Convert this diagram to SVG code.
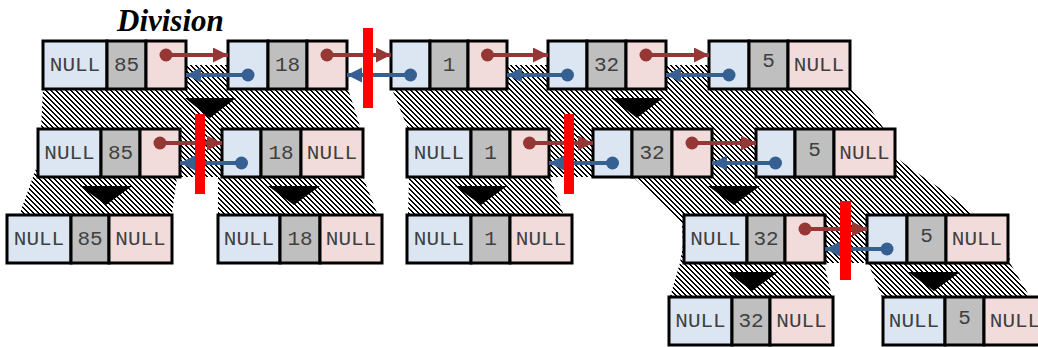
<svg xmlns="http://www.w3.org/2000/svg" width="1038" height="347" viewBox="0 0 1038 347">
<defs>
<style>
.b{fill:#dce6f2;stroke:#000;stroke-width:3}
.g{fill:#bfbfbf;stroke:#000;stroke-width:3}
.p{fill:#f2dcdb;stroke:#000;stroke-width:3}
.t{font-family:"Liberation Mono","Courier New",monospace;font-size:21px;fill:#404040;text-anchor:middle}
.ttl{font-family:"Liberation Serif","Times New Roman",serif;font-size:31px;font-weight:bold;font-style:italic;fill:#000}
.ar{stroke:#953735;stroke-width:4;fill:none;marker-start:url(#dr);marker-end:url(#hr)}
.ab{stroke:#376092;stroke-width:4;fill:none;marker-start:url(#db);marker-end:url(#hb)}
.bar{fill:#ff0000}
.tri{fill:#000}
.hatch{fill:url(#hp)}
</style>
<pattern id="hp" patternUnits="userSpaceOnUse" x="0" y="0" width="5" height="5">
<rect x="0" y="0" width="5" height="5" fill="#fff"/>
<rect x="0" y="0" width="2" height="1" fill="#000"/>
<rect x="1" y="1" width="2" height="1" fill="#000"/>
<rect x="2" y="2" width="2" height="1" fill="#000"/>
<rect x="3" y="3" width="2" height="1" fill="#000"/>
<rect x="4" y="4" width="1" height="1" fill="#000"/>
<rect x="0" y="4" width="1" height="1" fill="#000"/>
</pattern>
<marker id="hr" markerUnits="userSpaceOnUse" markerWidth="16" markerHeight="16" refX="15" refY="7.5" orient="auto"><path d="M0,0 L15,7.5 L0,15 z" fill="#953735"/></marker>
<marker id="hb" markerUnits="userSpaceOnUse" markerWidth="16" markerHeight="16" refX="15" refY="7.5" orient="auto"><path d="M0,0 L15,7.5 L0,15 z" fill="#376092"/></marker>
<marker id="dr" markerUnits="userSpaceOnUse" markerWidth="14" markerHeight="14" refX="7" refY="7"><circle cx="7" cy="7" r="6.5" fill="#953735"/></marker>
<marker id="db" markerUnits="userSpaceOnUse" markerWidth="14" markerHeight="14" refX="7" refY="7"><circle cx="7" cy="7" r="6.5" fill="#376092"/></marker>
</defs>
<rect width="1038" height="347" fill="#fff"/>

<g id="hatches">
<polygon class="hatch" points="44,65 340,65 348,89 361,129 363,177 40,177 41,129 43,89"/>
<polygon class="hatch" points="392,65 850,65 851,89 868,105 884,129 895,177 408,177 408,129 392,89"/>
<polygon class="hatch" points="42,153 178,153 177,177 172,213 172,263 7,263 8,245 20,213 33,177"/>
<polygon class="hatch" points="222,153 362,153 363,177 377,213 380,263 218,263 218,177"/>
<polygon class="hatch" points="408,153 548,153 550,177 563,213 570,263 407,263 409,177"/>
<polygon class="hatch" points="608,153 890,153 913,170 957,200 975,215 1000,263 684,263 682,223 633,177"/>
<polygon class="hatch" points="684,239 825,239 824,263 832,297 833,345 669,345 670,297 680,263"/>
<polygon class="hatch" points="867,239 1008,239 1010,263 1030,297 1038,345 883,345 882,297 868,263"/>
</g>

<g id="triangles">
<polygon class="tri" points="185,98 236,98 210,118"/>
<polygon class="tri" points="611,98 663,98 637,118"/>
<polygon class="tri" points="80,186 132,186 106,205"/>
<polygon class="tri" points="268,186 320,186 294,205"/>
<polygon class="tri" points="455,186 507,186 481,205"/>
<polygon class="tri" points="708,186 760,186 734,205"/>
<polygon class="tri" points="727,272 778,272 752,291"/>
<polygon class="tri" points="908,272 960,272 934,291"/>
</g>

<text class="ttl" x="117" y="31">Division</text>

<g id="n1"><rect class="b" x="43" y="41" width="64" height="48"/><rect class="g" x="107" y="41" width="39" height="48"/><rect class="p" x="146" y="41" width="40" height="48"/><text class="t" x="75" y="71">NULL</text><text class="t" x="126.5" y="71">85</text></g>
<g id="n2"><rect class="b" x="228" y="41" width="40" height="48"/><rect class="g" x="268" y="41" width="39" height="48"/><rect class="p" x="307" y="41" width="40" height="48"/><text class="t" x="287.5" y="71">18</text></g>
<g id="n3"><rect class="b" x="391" y="41" width="39" height="48"/><rect class="g" x="430" y="41" width="38" height="48"/><rect class="p" x="468" y="41" width="39" height="48"/><text class="t" x="449" y="71">1</text></g>
<g id="n4"><rect class="b" x="548" y="41" width="39" height="48"/><rect class="g" x="587" y="41" width="39" height="48"/><rect class="p" x="626" y="41" width="40" height="48"/><text class="t" x="606.5" y="71">32</text></g>
<g id="n5"><rect class="b" x="709" y="41" width="40" height="48"/><rect class="g" x="749" y="41" width="39" height="48"/><rect class="p" x="788" y="41" width="62" height="48"/><text class="t" x="768.5" y="67">5</text><text class="t" x="819" y="71">NULL</text></g>

<g id="nA"><rect class="b" x="38" y="129" width="63" height="48"/><rect class="g" x="101" y="129" width="39" height="48"/><rect class="p" x="140" y="129" width="40" height="48"/><text class="t" x="69.5" y="159">NULL</text><text class="t" x="120.5" y="159">85</text></g>
<g id="nB"><rect class="b" x="222" y="129" width="39" height="48"/><rect class="g" x="261" y="129" width="40" height="48"/><rect class="p" x="301" y="129" width="62" height="48"/><text class="t" x="281" y="159">18</text><text class="t" x="332" y="159">NULL</text></g>
<g id="nC"><rect class="b" x="407" y="129" width="64" height="48"/><rect class="g" x="471" y="129" width="39" height="48"/><rect class="p" x="510" y="129" width="39" height="48"/><text class="t" x="439" y="159">NULL</text><text class="t" x="490.5" y="159">1</text></g>
<g id="nD"><rect class="b" x="593" y="129" width="39" height="48"/><rect class="g" x="632" y="129" width="40" height="48"/><rect class="p" x="672" y="129" width="40" height="48"/><text class="t" x="652" y="159">32</text></g>
<g id="nE"><rect class="b" x="756" y="129" width="39" height="48"/><rect class="g" x="795" y="129" width="39" height="48"/><rect class="p" x="834" y="129" width="61" height="48"/><text class="t" x="814.5" y="156">5</text><text class="t" x="864.5" y="159">NULL</text></g>

<g id="nF"><rect class="b" x="7" y="215" width="64" height="48"/><rect class="g" x="71" y="215" width="38" height="48"/><rect class="p" x="109" y="215" width="63" height="48"/><text class="t" x="39" y="245">NULL</text><text class="t" x="90" y="245">85</text><text class="t" x="140.5" y="245">NULL</text></g>
<g id="nG"><rect class="b" x="218" y="215" width="62" height="48"/><rect class="g" x="280" y="215" width="40" height="48"/><rect class="p" x="320" y="215" width="62" height="48"/><text class="t" x="249" y="245">NULL</text><text class="t" x="300" y="245">18</text><text class="t" x="351" y="245">NULL</text></g>
<g id="nH"><rect class="b" x="407" y="215" width="64" height="48"/><rect class="g" x="471" y="215" width="39" height="48"/><rect class="p" x="510" y="215" width="62" height="48"/><text class="t" x="439" y="245">NULL</text><text class="t" x="490.5" y="245">1</text><text class="t" x="541" y="245">NULL</text></g>
<g id="nI"><rect class="b" x="684" y="215" width="63" height="48"/><rect class="g" x="747" y="215" width="38" height="48"/><rect class="p" x="785" y="215" width="40" height="48"/><text class="t" x="715.5" y="245">NULL</text><text class="t" x="766" y="245">32</text></g>
<g id="nJ"><rect class="b" x="867" y="215" width="40" height="48"/><rect class="g" x="907" y="215" width="39" height="48"/><rect class="p" x="946" y="215" width="62" height="48"/><text class="t" x="926.5" y="242">5</text><text class="t" x="977" y="245">NULL</text></g>

<g id="nK"><rect class="b" x="669" y="297" width="63" height="48"/><rect class="g" x="732" y="297" width="38" height="48"/><rect class="p" x="770" y="297" width="63" height="48"/><text class="t" x="700.5" y="327">NULL</text><text class="t" x="751" y="327">32</text><text class="t" x="801.5" y="327">NULL</text></g>
<g id="nL"><rect class="b" x="883" y="297" width="62" height="48"/><rect class="g" x="945" y="297" width="39" height="48"/><rect class="p" x="984" y="297" width="62" height="48"/><text class="t" x="914" y="327">NULL</text><text class="t" x="964.5" y="324">5</text><text class="t" x="1015" y="327">NULL</text></g>

<g id="connectors">
<line class="ar" x1="166" y1="55" x2="228" y2="55"/>
<line class="ab" x1="248" y1="75" x2="186" y2="75"/>
<line class="ar" x1="327" y1="55" x2="391" y2="55"/>
<line class="ab" x1="410.5" y1="75" x2="347" y2="75"/>
<line class="ar" x1="487.5" y1="55" x2="548" y2="55"/>
<line class="ab" x1="567.5" y1="75" x2="507" y2="75"/>
<line class="ar" x1="646" y1="55" x2="709" y2="55"/>
<line class="ab" x1="729" y1="75" x2="666" y2="75"/>
<line class="ar" x1="160" y1="143" x2="222" y2="143"/>
<line class="ab" x1="241.5" y1="163" x2="180" y2="163"/>
<line class="ar" x1="529.5" y1="143" x2="593" y2="143"/>
<line class="ab" x1="612.5" y1="163" x2="549" y2="163"/>
<line class="ar" x1="692" y1="143" x2="756" y2="143"/>
<line class="ab" x1="775.5" y1="163" x2="712" y2="163"/>
<line class="ar" x1="805" y1="229" x2="867" y2="229"/>
<line class="ab" x1="887" y1="249" x2="825" y2="249"/>
</g>

<g id="cuts">
<rect class="bar" x="363" y="28" width="10" height="80"/>
<rect class="bar" x="195" y="114" width="10" height="80"/>
<rect class="bar" x="564" y="114" width="10" height="80"/>
<rect class="bar" x="840" y="201" width="11" height="79"/>
</g>
</svg>
